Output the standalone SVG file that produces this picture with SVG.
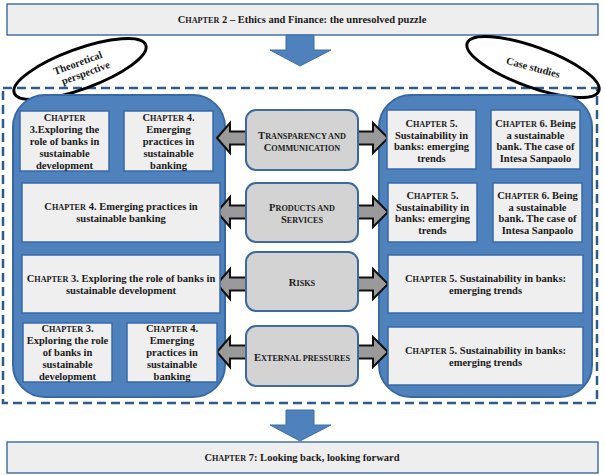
<svg xmlns="http://www.w3.org/2000/svg" width="605" height="475" viewBox="0 0 605 475">
<style>
text{font-family:"Liberation Serif","Times New Roman",serif;font-weight:bold;fill:#1a1a1a;text-anchor:middle}
.t{font-size:10.5px}
.s{font-size:8.2px}
.band{fill:#eeeeee;stroke:#2f5e9a;stroke-width:1.3}
.chap{fill:#efefef;stroke:#3a6aa8;stroke-width:1.5}
.panel{fill:#4f81bd;stroke:#3869a3;stroke-width:2}
.mid{fill:#d3d3d3;stroke:#3d6a9e;stroke-width:2}
.garr{fill:#9a9a9a;stroke:#111;stroke-width:2;stroke-linejoin:miter}
.barr{fill:#4f81bd;stroke:#3f6ea6;stroke-width:1}
.oval{fill:none;stroke:#000;stroke-width:3}
</style>

<g id="chapter2">
<rect class="band" x="7" y="4" width="591" height="31"/>
<text class="t" x="302" y="23">C<tspan class="s">HAPTER</tspan> 2 – Ethics and Finance: the unresolved puzzle</text>
</g>

<g id="frame">
<rect x="3" y="88" width="594" height="315" fill="none" stroke="#2f5b8c" stroke-width="2.5" stroke-dasharray="9 5"/>
</g>

<g id="theoretical-label">
<ellipse class="oval" cx="80" cy="69" rx="70" ry="20" transform="rotate(-20 80 69)"/>
<text class="t" transform="rotate(-20 80 69)" x="80" y="66">Theoretical</text>
<text class="t" transform="rotate(-20 80 69)" x="84" y="78">perspective</text>
</g>

<g id="case-label">
<ellipse class="oval" cx="533" cy="67" rx="70" ry="20" transform="rotate(20 533 67)"/>
<text class="t" transform="rotate(15 533 68)" x="533" y="71">Case studies</text>
</g>

<g id="left-panel">
<rect class="panel" x="13" y="95" width="212" height="302" rx="32"/>
</g>
<g id="right-panel">
<rect class="panel" x="379" y="95" width="213" height="302" rx="32"/>
</g>

<g id="connectors">
<polygon class="barr" points="286,35 314,35 314,50 331,50 300,66 270,50 286,50"/>
<polygon class="barr" points="286,410 314,410 314,425 331,425 300,441 270,425 286,425"/>
<polygon class="garr" points="217,138 230,123 230,131.5 246,131.5 246,144.5 230,144.5 230,153"/>
<polygon class="garr" points="388,138 373,123 373,131.5 358,131.5 358,144.5 373,144.5 373,153"/>
<polygon class="garr" points="217,212 230,197 230,205.5 246,205.5 246,218.5 230,218.5 230,227"/>
<polygon class="garr" points="388,212 373,197 373,205.5 358,205.5 358,218.5 373,218.5 373,227"/>
<polygon class="garr" points="217,284 230,269 230,277.5 246,277.5 246,290.5 230,290.5 230,299"/>
<polygon class="garr" points="388,284 373,269 373,277.5 358,277.5 358,290.5 373,290.5 373,299"/>
<polygon class="garr" points="217,352 230,337 230,345.5 246,345.5 246,358.5 230,358.5 230,367"/>
<polygon class="garr" points="388,352 373,337 373,345.5 358,345.5 358,358.5 373,358.5 373,367"/>
</g>

<g id="l1a">
<rect class="chap" x="20" y="111" width="89" height="60"/>
<text class="t" x="64.5" y="121">C<tspan class="s">HAPTER</tspan></text>
<text class="t" x="64.5" y="133">3.Exploring the</text>
<text class="t" x="64.5" y="145">role of banks in</text>
<text class="t" x="64.5" y="157">sustainable</text>
<text class="t" x="64.5" y="169">development</text>
</g>
<g id="l1b">
<rect class="chap" x="124" y="111" width="89" height="60"/>
<text class="t" x="168.5" y="121">C<tspan class="s">HAPTER</tspan> 4.</text>
<text class="t" x="168.5" y="133">Emerging</text>
<text class="t" x="168.5" y="145">practices in</text>
<text class="t" x="168.5" y="157">sustainable</text>
<text class="t" x="168.5" y="169">banking</text>
</g>
<g id="l2">
<rect class="chap" x="22" y="183" width="198" height="59"/>
<text class="t" x="121" y="210">C<tspan class="s">HAPTER</tspan> 4. Emerging practices in</text>
<text class="t" x="121" y="222">sustainable banking</text>
</g>
<g id="l3">
<rect class="chap" x="22" y="255" width="198" height="58"/>
<text class="t" x="121" y="282">C<tspan class="s">HAPTER</tspan> 3. Exploring the role of banks in</text>
<text class="t" x="121" y="294">sustainable development</text>
</g>
<g id="l4a">
<rect class="chap" x="23" y="323" width="89" height="59"/>
<text class="t" x="67.5" y="332">C<tspan class="s">HAPTER</tspan> 3.</text>
<text class="t" x="67.5" y="344">Exploring the role</text>
<text class="t" x="67.5" y="356">of banks in</text>
<text class="t" x="67.5" y="368">sustainable</text>
<text class="t" x="67.5" y="380">development</text>
</g>
<g id="l4b">
<rect class="chap" x="127" y="323" width="90" height="59"/>
<text class="t" x="172" y="332">C<tspan class="s">HAPTER</tspan> 4.</text>
<text class="t" x="172" y="344">Emerging</text>
<text class="t" x="172" y="356">practices in</text>
<text class="t" x="172" y="368">sustainable</text>
<text class="t" x="172" y="380">banking</text>
</g>

<g id="m1">
<rect class="mid" x="246" y="110" width="112" height="60" rx="10"/>
<text class="t" x="302" y="138.5">T<tspan class="s">RANSPARENCY AND</tspan></text>
<text class="t" x="302" y="150.5">C<tspan class="s">OMMUNICATION</tspan></text>
</g>
<g id="m2">
<rect class="mid" x="246" y="183" width="112" height="59" rx="10"/>
<text class="t" x="302" y="210.5">P<tspan class="s">RODUCTS AND</tspan></text>
<text class="t" x="302" y="222.5">S<tspan class="s">ERVICES</tspan></text>
</g>
<g id="m3">
<rect class="mid" x="246" y="252" width="112" height="59" rx="10"/>
<text class="t" x="302" y="285.5">R<tspan class="s">ISKS</tspan></text>
</g>
<g id="m4">
<rect class="mid" x="246" y="326" width="112" height="60" rx="10"/>
<text class="t" x="302" y="360.5">E<tspan class="s">XTERNAL PRESSURES</tspan></text>
</g>

<g id="r1a">
<rect class="chap" x="387" y="110" width="89" height="59"/>
<text class="t" x="431.5" y="126.5">C<tspan class="s">HAPTER</tspan> 5.</text>
<text class="t" x="431.5" y="138.5">Sustainability in</text>
<text class="t" x="431.5" y="150">banks: emerging</text>
<text class="t" x="431.5" y="161.5">trends</text>
</g>
<g id="r1b">
<rect class="chap" x="491" y="110" width="89" height="59"/>
<text class="t" x="535.5" y="126.5">C<tspan class="s">HAPTER</tspan> 6. Being</text>
<text class="t" x="535.5" y="138.5">a sustainable</text>
<text class="t" x="535.5" y="150">bank. The case of</text>
<text class="t" x="535.5" y="161.5">Intesa Sanpaolo</text>
</g>
<g id="r2a">
<rect class="chap" x="388" y="183" width="89" height="59"/>
<text class="t" x="432.5" y="198.5">C<tspan class="s">HAPTER</tspan> 5.</text>
<text class="t" x="432.5" y="210.5">Sustainability in</text>
<text class="t" x="432.5" y="222">banks: emerging</text>
<text class="t" x="432.5" y="233.5">trends</text>
</g>
<g id="r2b">
<rect class="chap" x="493" y="183" width="89" height="59"/>
<text class="t" x="537.5" y="198.5">C<tspan class="s">HAPTER</tspan> 6. Being</text>
<text class="t" x="537.5" y="210.5">a sustainable</text>
<text class="t" x="537.5" y="222">bank. The case of</text>
<text class="t" x="537.5" y="233.5">Intesa Sanpaolo</text>
</g>
<g id="r3">
<rect class="chap" x="388" y="255" width="195" height="58"/>
<text class="t" x="485.5" y="282">C<tspan class="s">HAPTER</tspan> 5. Sustainability in banks:</text>
<text class="t" x="485.5" y="294">emerging trends</text>
</g>
<g id="r4">
<rect class="chap" x="388" y="327" width="195" height="58"/>
<text class="t" x="485.5" y="353.5">C<tspan class="s">HAPTER</tspan> 5. Sustainability in banks:</text>
<text class="t" x="485.5" y="365.5">emerging trends</text>
</g>

<g id="chapter7">
<rect class="band" x="7" y="442" width="591" height="31"/>
<text class="t" x="302" y="461">C<tspan class="s">HAPTER</tspan> 7: Looking back, looking forward</text>
</g>
</svg>
